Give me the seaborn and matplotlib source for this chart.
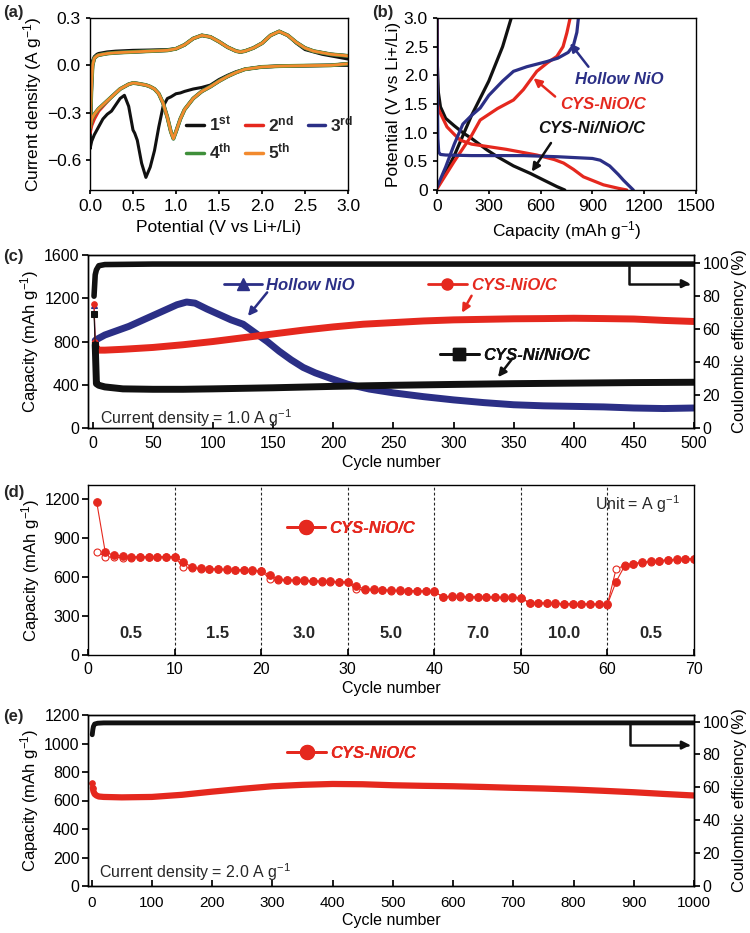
import matplotlib
matplotlib.use('Agg')
import matplotlib.pyplot as plt
from matplotlib.lines import Line2D
import seaborn as sns

# ---------------- (a) cyclic voltammetry ----------------
cv_cath_v = [3.0, 2.8, 2.5, 2.2, 2.0, 1.8, 1.7, 1.6, 1.5, 1.4, 1.3, 1.2, 1.1, 1.05, 1.0,
             0.97, 0.94, 0.9, 0.85, 0.8, 0.75, 0.7, 0.65, 0.6, 0.55, 0.52, 0.5, 0.45, 0.4,
             0.35, 0.3, 0.25, 0.2, 0.15, 0.1, 0.05, 0.02, 0.0]
cv_cath_1st = [0.0, 0.0, -0.003, -0.006, -0.01, -0.025, -0.04, -0.063, -0.09, -0.125, -0.14,
               -0.15, -0.165, -0.175, -0.18, -0.19, -0.2, -0.21, -0.26, -0.39, -0.54, -0.645,
               -0.71, -0.62, -0.475, -0.43, -0.41, -0.26, -0.19, -0.21, -0.25, -0.29, -0.31,
               -0.34, -0.39, -0.44, -0.48, -0.53]
cv_cath_2nd = [0.01, 0.0, -0.002, -0.005, -0.01, -0.025, -0.045, -0.07, -0.1, -0.135, -0.165,
               -0.21, -0.28, -0.34, -0.42, -0.46, -0.42, -0.33, -0.24, -0.18, -0.15, -0.135,
               -0.125, -0.12, -0.115, -0.113, -0.112, -0.12, -0.135, -0.15, -0.175, -0.2,
               -0.23, -0.26, -0.29, -0.34, -0.38, -0.43]
cv_cath_later = [0.01, 0.0, -0.002, -0.005, -0.01, -0.025, -0.045, -0.07, -0.1, -0.135, -0.165,
                 -0.21, -0.28, -0.34, -0.42, -0.465, -0.42, -0.33, -0.24, -0.18, -0.15, -0.135,
                 -0.125, -0.12, -0.115, -0.113, -0.112, -0.12, -0.135, -0.15, -0.175, -0.2,
                 -0.225, -0.25, -0.275, -0.31, -0.34, -0.39]
cv_anod_v = [0.0, 0.01, 0.02, 0.03, 0.05, 0.08, 0.1, 0.2, 0.3, 0.5, 0.7, 0.9, 1.0, 1.1, 1.2,
             1.3, 1.4, 1.5, 1.6, 1.7, 1.75, 1.8, 1.9, 2.0, 2.1, 2.2, 2.3, 2.4, 2.5, 2.6, 2.7,
             2.8, 2.9, 3.0]
cv_anod_1st = [-0.53, -0.3, -0.05, 0.03, 0.055, 0.07, 0.075, 0.085, 0.09, 0.095, 0.097, 0.1,
               0.105, 0.13, 0.17, 0.19, 0.18, 0.15, 0.115, 0.09, 0.085, 0.09, 0.11, 0.14,
               0.19, 0.215, 0.19, 0.14, 0.1, 0.085, 0.07, 0.06, 0.05, 0.04]
cv_anod_later = [-0.4, -0.25, -0.1, 0.0, 0.045, 0.06, 0.065, 0.075, 0.08, 0.085, 0.09, 0.095,
                 0.105, 0.13, 0.17, 0.19, 0.18, 0.15, 0.115, 0.09, 0.085, 0.09, 0.11, 0.14,
                 0.19, 0.215, 0.19, 0.145, 0.11, 0.09, 0.08, 0.07, 0.065, 0.06]
cv_labels = ['1st', '2nd', '3rd', '4th', '5th']

# ---------------- (b) charge / discharge ----------------
b_blk_dis_cap = [0, 2, 8, 20, 50, 100, 154, 200, 289, 350, 443, 540, 620, 694, 740]
b_blk_dis_v = [3.0, 2.2, 1.7, 1.45, 1.25, 1.12, 0.99, 0.9, 0.7, 0.58, 0.42, 0.29, 0.17, 0.06, 0.0]
b_blk_chg_cap = [0, 50, 100, 150, 200, 250, 300, 340, 380, 410, 430]
b_blk_chg_v = [0.05, 0.3, 0.6, 0.95, 1.3, 1.6, 1.9, 2.2, 2.5, 2.8, 3.0]
b_red_dis_cap = [0, 3, 10, 58, 100, 135, 200, 289, 400, 578, 680, 733, 790, 848, 964, 1050, 1099]
b_red_dis_v = [3.0, 1.5, 1.4, 1.1, 0.97, 0.87, 0.8, 0.76, 0.71, 0.61, 0.53, 0.47, 0.36, 0.23, 0.09, 0.03, 0.0]
b_red_chg_cap = [0, 100, 200, 250, 350, 443, 500, 578, 640, 694, 730, 752, 771]
b_red_chg_v = [0.02, 0.5, 0.95, 1.22, 1.42, 1.57, 1.75, 2.07, 2.22, 2.33, 2.5, 2.74, 3.0]
b_blu_dis_cap = [0, 2, 5, 10, 20, 50, 200, 500, 700, 900, 945, 1000, 1050, 1080, 1110, 1137]
b_blu_dis_v = [3.0, 1.7, 0.9, 0.66, 0.62, 0.61, 0.6, 0.6, 0.58, 0.55, 0.52, 0.42, 0.27, 0.17, 0.08, 0.0]
b_blu_chg_cap = [0, 50, 100, 150, 200, 250, 300, 380, 443, 520, 636, 700, 760, 790, 810, 819]
b_blu_chg_v = [0.05, 0.4, 0.8, 1.15, 1.3, 1.43, 1.65, 1.9, 2.07, 2.15, 2.24, 2.3, 2.4, 2.52, 2.75, 3.0]

# ---------------- (c) cycling at 1.0 A/g ----------------
c_blu_cyc = [1, 2, 5, 10, 20, 30, 40, 50, 60, 70, 78, 85, 95, 105, 115, 125, 135, 145, 155, 165,
             175, 185, 200, 212, 230, 250, 275, 300, 325, 350, 375, 400, 425, 450, 475, 500]
c_blu_cap = [1140, 810, 830, 860, 900, 940, 990, 1040, 1090, 1140, 1165, 1155, 1100, 1050, 1000,
             960, 880, 800, 710, 630, 560, 510, 450, 405, 360, 325, 290, 260, 235, 215, 205, 200,
             195, 185, 180, 185]
c_red_cyc = [1, 2, 3, 5, 10, 25, 50, 75, 100, 125, 150, 175, 200, 225, 250, 275, 300, 325, 350,
             375, 400, 425, 450, 475, 500]
c_red_cap = [1150, 790, 730, 720, 720, 728, 745, 770, 800, 835, 870, 905, 935, 960, 975, 990,
             1000, 1005, 1010, 1012, 1015, 1012, 1008, 995, 985]
c_blk_cyc = [1, 2, 3, 5, 10, 25, 50, 75, 100, 150, 200, 250, 300, 350, 400, 450, 500]
c_blk_cap = [1050, 770, 410, 395, 380, 362, 358, 358, 362, 372, 385, 395, 403, 410, 415, 420, 423]
c_ce_cyc = [1, 2, 3, 5, 10, 50, 100, 200, 300, 400, 500]
c_ce = [80, 93, 96, 98.5, 99.2, 99.5, 99.5, 99.5, 99.5, 99.5, 99.5]

# ---------------- (d) rate capability ----------------
d_cycles = list(range(1, 71))
d_charge = [1180, 790, 770, 762, 758, 757, 757, 757, 758, 757,
            720, 675, 668, 665, 662, 660, 657, 655, 652, 650,
            615, 585, 580, 577, 575, 572, 570, 568, 565, 562,
            528, 510, 505, 503, 500, 498, 497, 495, 493, 490,
            446, 455, 452, 450, 448, 447, 446, 445, 444, 443,
            400, 402, 400, 398, 396, 395, 394, 393, 392, 390,
            565, 688, 705, 715, 722, 728, 733, 737, 740, 743]
d_discharge = [796, 758, 752, 750, 750, 752, 753, 753, 754, 755,
               676, 668, 665, 662, 660, 657, 655, 652, 650, 648,
               587, 578, 575, 573, 570, 568, 566, 564, 562, 560,
               505, 503, 500, 498, 496, 494, 493, 491, 490, 488,
               448, 449, 448, 447, 446, 445, 444, 443, 442, 441,
               402, 399, 397, 396, 394, 393, 392, 391, 390, 388,
               663, 690, 703, 712, 719, 725, 730, 734, 737, 740]
d_edges = [0, 10, 20, 30, 40, 50, 60, 70]
d_rates = ['0.5', '1.5', '3.0', '5.0', '7.0', '10.0', '0.5']

# ---------------- (e) cycling at 2.0 A/g ----------------
e_cyc = [1, 2, 3, 5, 8, 12, 20, 50, 100, 150, 200, 250, 300, 350, 400, 450, 500, 550, 600,
         650, 700, 750, 800, 850, 900, 950, 1000]
e_cap = [720, 690, 665, 645, 635, 628, 625, 622, 625, 640, 662, 682, 700, 710, 716, 714, 707,
         703, 700, 695, 689, 684, 677, 668, 658, 646, 635]
e_ce_cyc = [1, 2, 3, 5, 10, 20, 100, 300, 500, 700, 900, 1000]
e_ce = [92, 95, 97, 98.5, 99, 99.2, 99.2, 99.2, 99.2, 99.2, 99.2, 99.2]

BLACK = '#111111'
RED = '#e5281e'
NAVY = '#2b2f86'
GREEN = '#3f8f3a'
ORANGE = '#f28a2e'
TICK = 11.5

sns.set_theme(style='ticks')
plt.rcParams.update({
    'font.family': ['Liberation Sans', 'DejaVu Sans'],
    'mathtext.fontset': 'custom',
    'mathtext.rm': 'Liberation Sans',
    'mathtext.it': 'Liberation Sans:italic',
    'mathtext.bf': 'Liberation Sans:bold',
    'axes.edgecolor': 'black',
    'axes.linewidth': 1.0,
    'xtick.color': 'black',
    'ytick.color': 'black',
    'axes.labelcolor': 'black',
    'font.size': 12,
})

fig = plt.figure(figsize=(7.5, 9.33), dpi=100)
W, H = 750, 933


def place(l, t, r, b):
    return fig.add_axes([l / W, 1 - b / H, (r - l) / W, (b - t) / H])


def tag(ax, x, y, marker, color, text, ms=8, size=12):
    h = Line2D([], [], color=color, marker=marker, ms=ms, lw=2)
    leg = ax.legend([h], [text], loc='center left', bbox_to_anchor=(x, y),
                    bbox_transform=ax.transData, frameon=False, handlelength=2.3,
                    handletextpad=0.25, borderaxespad=0, borderpad=0,
                    prop={'weight': 'bold', 'style': 'italic', 'size': size},
                    labelcolor=color)
    ax.add_artist(leg)


def arrow(ax, start, end, color):
    ax.annotate('', xy=end, xytext=start,
                arrowprops=dict(arrowstyle='-|>', color=color, lw=1.8,
                                mutation_scale=12, shrinkA=0, shrinkB=0))


# ---- (a) ----
ax = place(90, 18, 348, 190)
cv_sets = [(cv_cath_1st, cv_anod_1st, BLACK, 2.2),
           (cv_cath_2nd, cv_anod_later, RED, 2.4),
           (cv_cath_later, cv_anod_later, NAVY, 2.4),
           (cv_cath_later, cv_anod_later, GREEN, 2.8),
           (cv_cath_later, cv_anod_later, ORANGE, 2.0)]
handles = []
for (cath, anod, col, lw), lab in zip(cv_sets, cv_labels):
    sns.lineplot(x=cv_cath_v + cv_anod_v, y=cath + anod, sort=False, estimator=None,
                 color=col, lw=lw, ax=ax)
    handles.append(Line2D([], [], color=col, lw=2.5))
labs = [r'$\mathbf{%s^{%s}}$' % (l[0], l[1:]) for l in cv_labels]
order = [0, 3, 1, 4, 2]
ax.legend([handles[i] for i in order], [labs[i] for i in order], ncol=3,
          loc='upper left', bbox_to_anchor=(1.12, -0.31), bbox_transform=ax.transData,
          frameon=False, handlelength=1.0, handletextpad=0.3, columnspacing=0.8,
          borderpad=0, borderaxespad=0, labelspacing=0.45, prop={'size': 12.5})
ax.set_xlim(0, 3.0)
ax.set_ylim(-0.79, 0.3)
ax.set_xticks([0.0, 0.5, 1.0, 1.5, 2.0, 2.5, 3.0])
ax.set_yticks([-0.6, -0.3, 0.0, 0.3])
ax.set_xticklabels(['0.0', '0.5', '1.0', '1.5', '2.0', '2.5', '3.0'])
ax.set_yticklabels(['\u22120.6', '\u22120.3', '0.0', '0.3'])
ax.tick_params(labelsize=12.5, length=3)
ax.set_xlabel('Potential (V vs Li+/Li)', fontsize=12.5)
ax.set_ylabel('Current density (A g$^{-1}$)', fontsize=12.5, labelpad=2)

# ---- (b) ----
ax = place(437, 18, 696, 190)
for cap, v, col in [(b_blk_dis_cap, b_blk_dis_v, BLACK), (b_blk_chg_cap, b_blk_chg_v, BLACK),
                    (b_red_dis_cap, b_red_dis_v, RED), (b_red_chg_cap, b_red_chg_v, RED),
                    (b_blu_dis_cap, b_blu_dis_v, NAVY), (b_blu_chg_cap, b_blu_chg_v, NAVY)]:
    sns.lineplot(x=cap, y=v, sort=False, estimator=None, color=col, lw=2.3, ax=ax)
ax.text(800, 1.92, 'Hollow NiO', color=NAVY, weight='bold', style='italic', fontsize=12, va='center')
ax.text(713, 1.49, 'CYS-NiO/C', color=RED, weight='bold', style='italic', fontsize=12, va='center')
ax.text(588, 1.08, 'CYS-Ni/NiO/C', color=BLACK, weight='bold', style='italic', fontsize=12, va='center')
arrow(ax, (877, 2.15), (771, 2.56), NAVY)
arrow(ax, (684, 1.63), (559, 1.95), RED)
arrow(ax, (660, 0.82), (549, 0.32), BLACK)
ax.set_xlim(0, 1500)
ax.set_ylim(0, 3.0)
ax.set_xticks([0, 300, 600, 900, 1200, 1500])
ax.set_yticks([0, 0.5, 1.0, 1.5, 2.0, 2.5, 3.0])
ax.set_yticklabels(['0', '0.5', '1.0', '1.5', '2.0', '2.5', '3.0'])
ax.tick_params(labelsize=12.5, length=3)
ax.set_xlabel('Capacity (mAh g$^{-1}$)', fontsize=12.5)
ax.set_ylabel('Potential (V vs Li+/Li)', fontsize=12.5, labelpad=2)

# ---- (c) ----
ax = place(88, 255, 694, 428)
ax2 = ax.twinx()
for cyc, cap, col, mk in [(c_blu_cyc, c_blu_cap, NAVY, '^'), (c_red_cyc, c_red_cap, RED, 'o'),
                          (c_blk_cyc, c_blk_cap, BLACK, 's')]:
    sns.lineplot(x=cyc[1:], y=cap[1:], estimator=None, color=col, lw=5, ax=ax)
    sns.lineplot(x=cyc[:2], y=cap[:2], estimator=None, color=col, lw=0.8,
                 marker=mk, ms=4, mec=col, ax=ax)
sns.lineplot(x=c_ce_cyc, y=c_ce, estimator=None, color=BLACK, lw=4, ax=ax2)
tag(ax, 109, 1317, '^', NAVY, 'Hollow NiO', ms=8)
tag(ax, 279, 1317, 'o', RED, 'CYS-NiO/C', ms=8)
tag(ax, 289, 674, 's', BLACK, 'CYS-Ni/NiO/C', ms=8)
arrow(ax, (145, 1254), (129, 1035), NAVY)
arrow(ax, (315, 1223), (307, 1066), RED)
arrow(ax, (349, 643), (337, 470), BLACK)
ax2.annotate('', xy=(497, 87.6), xytext=(446, 98.5),
             arrowprops=dict(arrowstyle='-|>', color=BLACK, lw=1.8, mutation_scale=12,
                             shrinkA=0, shrinkB=0,
                             connectionstyle='angle,angleA=90,angleB=0,rad=0'))
ax.text(6, 88, 'Current density = 1.0 A g$^{-1}$', fontsize=11.5, va='center')
ax.set_xlim(-4, 500)
ax.set_ylim(0, 1600)
ax2.set_ylim(0, 105)
ax.set_xticks(range(0, 501, 50))
ax.set_yticks(range(0, 1601, 400))
ax2.set_yticks(range(0, 101, 20))
ax.set_xlabel('Cycle number', fontsize=11.5, labelpad=3)
ax.set_ylabel('Capacity (mAh g$^{-1}$)', fontsize=12, labelpad=2)
ax2.set_ylabel('Coulombic efficiency (%)', fontsize=12, labelpad=2)
ax.tick_params(axis='x', direction='in', length=4, labelsize=TICK, pad=6)
ax.tick_params(axis='y', direction='out', length=4, labelsize=TICK, pad=2)
ax2.tick_params(axis='y', direction='out', length=4, labelsize=TICK, pad=2)

# ---- (d) ----
ax = place(88, 485, 694, 655)
for x in d_edges[1:-1]:
    ax.axvline(x, color='0.15', lw=0.8, ls=(0, (2.5, 2)), zorder=0)
sns.lineplot(x=d_cycles, y=d_discharge, estimator=None, color=RED, lw=0.8, marker='o',
             ms=5, mfc='white', mec=RED, mew=0.8, ax=ax)
sns.lineplot(x=d_cycles, y=d_charge, estimator=None, color=RED, lw=0.8, marker='o',
             ms=5.5, mfc=RED, mec=RED, ax=ax)
for lo, hi, r in zip(d_edges[:-1], d_edges[1:], d_rates):
    ax.text((lo + hi) / 2, 166, r, ha='center', va='center', fontsize=12, weight='bold')
tag(ax, 23, 977, 'o', RED, 'CYS-NiO/C', ms=10)
ax.text(58.6, 1160, 'Unit = A g$^{-1}$', fontsize=11.5, va='center')
ax.set_xlim(0, 70)
ax.set_ylim(0, 1310)
ax.set_xticks(d_edges)
ax.set_yticks(range(0, 1201, 300))
ax.set_xlabel('Cycle number', fontsize=11.5, labelpad=3)
ax.set_ylabel('Capacity (mAh g$^{-1}$)', fontsize=12, labelpad=2)
ax.tick_params(axis='x', direction='in', length=4, labelsize=TICK, pad=5)
ax.tick_params(axis='y', direction='out', length=4, labelsize=TICK, pad=2)

# ---- (e) ----
ax = place(88, 715, 694, 886)
ax2 = ax.twinx()
sns.lineplot(x=e_cyc[1:], y=e_cap[1:], estimator=None, color=RED, lw=4.5, ax=ax)
sns.lineplot(x=e_cyc[:2], y=e_cap[:2], estimator=None, color=RED, lw=0.8, marker='o',
             ms=4, mec=RED, ax=ax)
sns.lineplot(x=e_ce_cyc, y=e_ce, estimator=None, color=BLACK, lw=3.5, ax=ax2)
tag(ax, 325, 929, 'o', RED, 'CYS-NiO/C', ms=10)
ax2.annotate('', xy=(994, 85.7), xytext=(894, 99),
             arrowprops=dict(arrowstyle='-|>', color=BLACK, lw=1.8, mutation_scale=12,
                             shrinkA=0, shrinkB=0,
                             connectionstyle='angle,angleA=90,angleB=0,rad=0'))
ax.text(12, 95, 'Current density = 2.0 A g$^{-1}$', fontsize=11.5, va='center')
ax.set_xlim(-6, 1000)
ax.set_ylim(0, 1200)
ax2.set_ylim(0, 104)
ax.set_xticks(range(0, 1001, 100))
ax.set_yticks(range(0, 1201, 200))
ax2.set_yticks(range(0, 101, 20))
ax.set_xlabel('Cycle number', fontsize=11.5, labelpad=2)
ax.set_ylabel('Capacity (mAh g$^{-1}$)', fontsize=12, labelpad=2)
ax2.set_ylabel('Coulombic efficiency (%)', fontsize=12, labelpad=2)
ax.tick_params(axis='x', direction='in', length=4, labelsize=11, pad=7)
ax.tick_params(axis='y', direction='out', length=4, labelsize=TICK, pad=2)
ax2.tick_params(axis='y', direction='out', length=4, labelsize=TICK, pad=2)

for lab, x, y in [('(a)', 3, 12), ('(b)', 372, 12), ('(c)', 3, 257), ('(d)', 3, 493), ('(e)', 3, 717)]:
    fig.text(x / W, 1 - y / H, lab, weight='bold', fontsize=12, va='center')

fig.savefig('out.png', dpi=100)
